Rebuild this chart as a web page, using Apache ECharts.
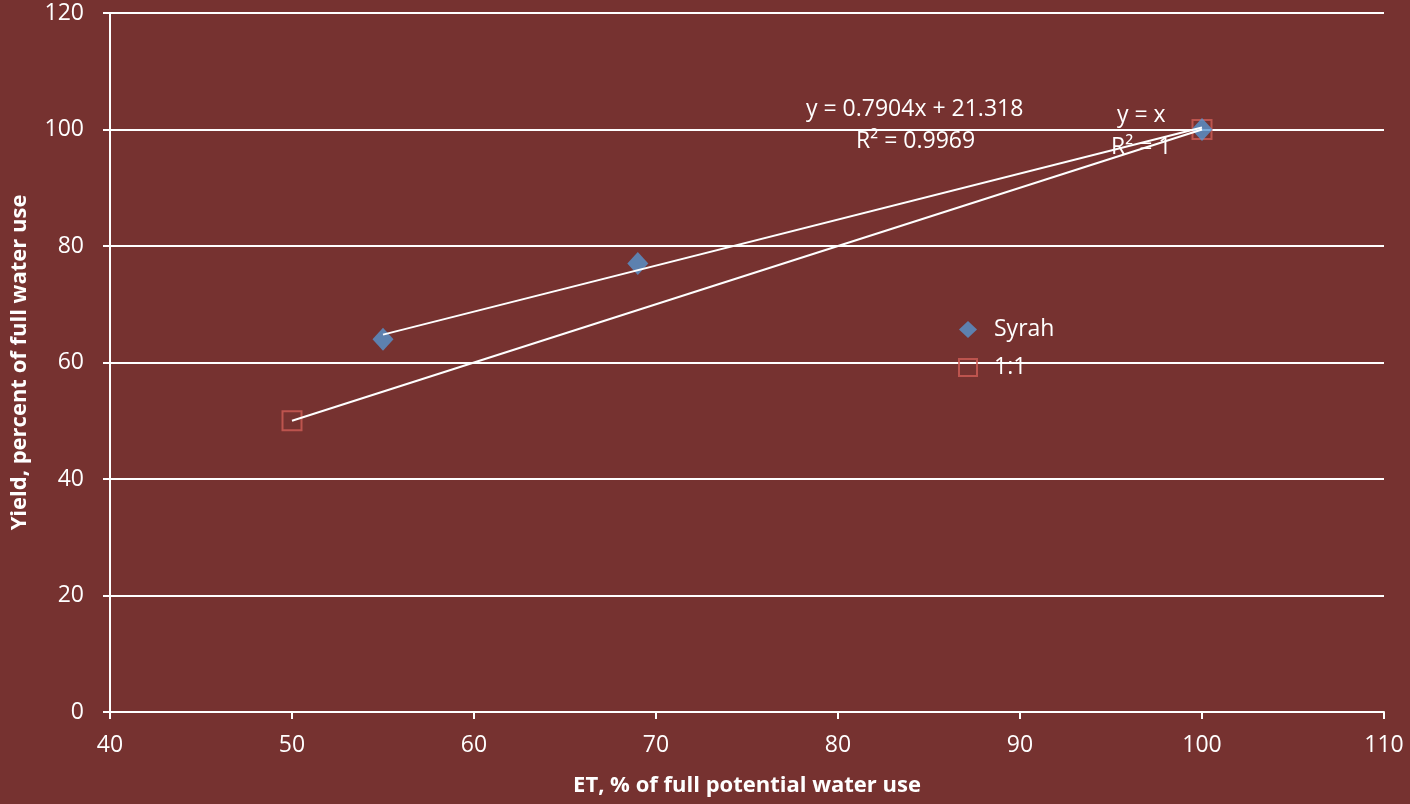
<!DOCTYPE html>
<html>
<head>
<meta charset="utf-8">
<script src="https://cdn.jsdelivr.net/npm/echarts@6/dist/echarts.min.js"></script>
<style>
  html, body { margin: 0; padding: 0; background: #763230; }
  #chart { width: 1410px; height: 804px; }
</style>
</head>
<body>
<div id="chart"></div>
<script>
// Syrah yield response to reduced water use
const syrahEt = [55, 69, 100];
const syrahYield = [64, 77, 100];
const oneToOneEt = [50, 100];
const oneToOneYield = [50, 100];

// Linear fit for Syrah (as reported on the chart)
const trendSlope = 0.7904;
const trendIntercept = 21.318;
const trendR2 = '0.9969';

const xTicks = [40, 50, 60, 70, 80, 90, 100, 110];
const yTicks = [0, 20, 40, 60, 80, 100, 120];

const FONT = '"Open Sans", sans-serif';
const WHITE = '#ffffff';
const FS = 23;
const NAME_FS = 22;

const syrahPoints = syrahEt.map((x, i) => [x, syrahYield[i]]);
const oneToOnePoints = oneToOneEt.map((x, i) => [x, oneToOneYield[i]]);
const trendStart = Math.min(...syrahEt);
const trendEnd = Math.max(...syrahEt);
const trendLine = [trendStart, trendEnd].map(x => [x, trendSlope * x + trendIntercept]);

const chart = echarts.init(document.getElementById('chart'), null, { renderer: 'canvas' });

chart.setOption({
  backgroundColor: '#763230',
  animation: false,
  textStyle: { fontFamily: FONT, color: WHITE },
  grid: { left: 110, right: 26, top: 13, bottom: 92, containLabel: false, outerBoundsMode: 'none' },
  xAxis: {
    type: 'value',
    min: xTicks[0],
    max: xTicks[xTicks.length - 1],
    interval: 10,
    name: 'ET, % of full potential water use',
    nameLocation: 'middle',
    nameGap: 63,
    nameTextStyle: { color: WHITE, fontSize: NAME_FS, fontWeight: 'bold', fontFamily: FONT },
    axisLine: { lineStyle: { color: WHITE, width: 2 } },
    axisTick: { show: true, inside: false, length: 7, lineStyle: { color: WHITE, width: 2 } },
    axisLabel: { color: WHITE, fontSize: FS, margin: 22, fontFamily: FONT },
    splitLine: { show: false }
  },
  yAxis: {
    type: 'value',
    min: yTicks[0],
    max: yTicks[yTicks.length - 1],
    interval: 20,
    name: 'Yield, percent of full water use',
    nameLocation: 'middle',
    nameGap: 79,
    nameRotate: 90,
    nameTextStyle: { color: WHITE, fontSize: NAME_FS, fontWeight: 'bold', fontFamily: FONT },
    axisLine: { show: true, lineStyle: { color: WHITE, width: 2 } },
    axisTick: { show: true, inside: false, length: 7, lineStyle: { color: WHITE, width: 2 } },
    axisLabel: { color: WHITE, fontSize: FS, margin: 26, fontFamily: FONT },
    splitLine: { show: true, lineStyle: { color: WHITE, width: 2 } }
  },
  legend: {
    orient: 'vertical',
    left: 953,
    top: 313,
    itemGap: 15,
    itemWidth: 18,
    itemHeight: 17,
    data: [
      { name: 'Syrah', icon: 'diamond' },
      { name: '1:1', icon: 'rect' }
    ],
    textStyle: { color: WHITE, fontSize: FS, fontFamily: FONT, padding: [0, 0, 0, 12] }
  },
  series: [
    {
      name: '1:1',
      type: 'scatter',
      data: oneToOnePoints,
      symbol: 'rect',
      symbolSize: 19,
      itemStyle: { color: 'rgba(0,0,0,0)', borderColor: '#d05c56', borderWidth: 2 },
      z: 2
    },
    {
      name: 'Syrah',
      type: 'scatter',
      data: syrahPoints,
      symbol: 'diamond',
      symbolSize: [21, 23],
      itemStyle: { color: '#5795d0' },
      z: 3
    },
    {
      name: 'Syrah trend',
      type: 'line',
      data: trendLine,
      showSymbol: false,
      symbol: 'none',
      lineStyle: { color: WHITE, width: 2 },
      silent: true,
      z: 4
    },
    {
      name: '1:1 trend',
      type: 'line',
      data: oneToOnePoints,
      showSymbol: false,
      symbol: 'none',
      lineStyle: { color: WHITE, width: 2 },
      silent: true,
      z: 4
    }
  ],
  graphic: [
    {
      type: 'text', left: 806, top: 98, z: 10,
      style: { text: 'y = ' + trendSlope + 'x + ' + trendIntercept, fill: WHITE, font: FS + 'px ' + FONT }
    },
    {
      type: 'text', left: 856, top: 130, z: 10,
      style: { text: 'R² = ' + trendR2, fill: WHITE, font: FS + 'px ' + FONT }
    },
    {
      type: 'text', left: 1117, top: 104, z: 10,
      style: { text: 'y = x', fill: WHITE, font: FS + 'px ' + FONT }
    },
    {
      type: 'text', left: 1111, top: 136, z: 10,
      style: { text: 'R² = 1', fill: WHITE, font: FS + 'px ' + FONT }
    }
  ]
});
</script>
</body>
</html>
